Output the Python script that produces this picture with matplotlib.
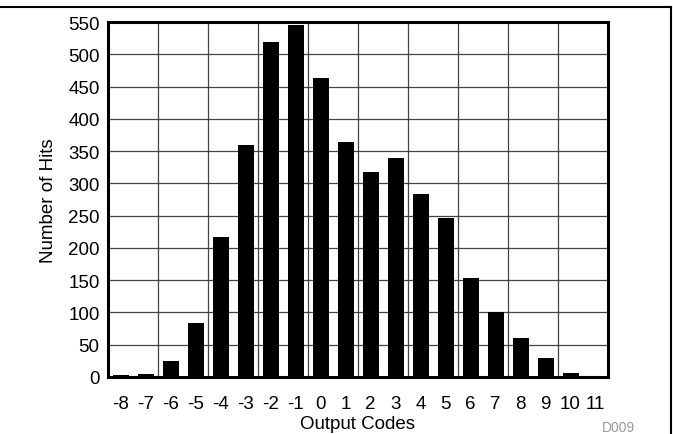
import numpy as np
import matplotlib
matplotlib.use('Agg')
import matplotlib.pyplot as plt
from matplotlib.lines import Line2D

# output code histogram
codes = [-8, -7, -6, -5, -4, -3, -2, -1, 0, 1, 2, 3, 4, 5, 6, 7, 8, 9, 10, 11]
hits = [3, 5, 25, 84, 217, 360, 519, 545, 464, 364, 317, 339, 284, 247, 153, 100, 60, 29, 6, 1]
y_ticks = [0, 50, 100, 150, 200, 250, 300, 350, 400, 450, 500, 550]

plt.rcParams['font.family'] = ['Liberation Sans', 'DejaVu Sans']
plt.rcParams['axes.unicode_minus'] = False

W, H = 673, 435
fig = plt.figure(figsize=(W / 100, H / 100), dpi=100)
ax = fig.add_axes([108 / W, (H - 378) / H, 500 / W, 355 / H])

ax.bar(codes, hits, width=0.64, color='black', zorder=3)

ax.set_xlim(codes[0] - 0.5, codes[-1] + 0.5)
ax.set_ylim(0, 550)
ax.set_xticks(codes)
ax.set_yticks(y_ticks)

# grid every two codes on the x axis
ax.set_xticks(np.arange(codes[0] - 0.5, codes[-1] + 0.6, 2), minor=True)
ax.grid(False)
ax.grid(True, which='minor', axis='x', color='#444444', linewidth=0.9, zorder=1)
ax.grid(True, which='major', axis='y', color='#444444', linewidth=0.9, zorder=1)

ax.tick_params(axis='both', which='both', length=0, labelsize=13.5)
ax.tick_params(axis='x', pad=13)
ax.tick_params(axis='y', pad=6)

for s in ax.spines.values():
    s.set_linewidth(2.2)
    s.set_zorder(4)

ax.set_xlabel('Output Codes', fontsize=13.5, labelpad=2)
ax.set_ylabel('Number of Hits', fontsize=13.5, labelpad=8)

fig.text(635 / W, 1 - 428 / H, 'D009', color='#999999', fontsize=10,
         ha='right', va='center')

# frame lines around the figure
fig.add_artist(Line2D([0, 671 / W], [1 - 8 / H, 1 - 8 / H], color='black', linewidth=1.5))
fig.add_artist(Line2D([671 / W, 671 / W], [1 - 8 / H, 0], color='black', linewidth=1.5))

plt.savefig('out.png', dpi=100)
